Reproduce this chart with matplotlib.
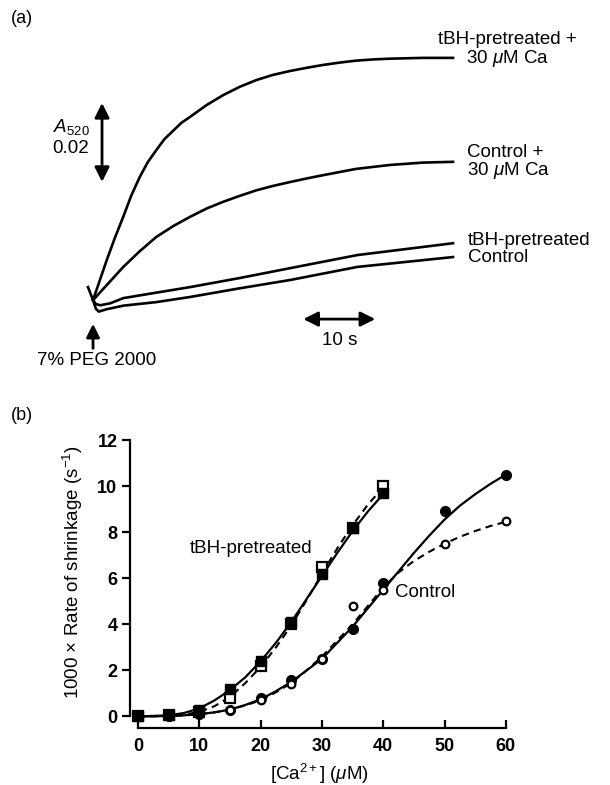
import matplotlib.pyplot as plt

plt.rcParams['font.family'] = ['Liberation Sans', 'DejaVu Sans']
plt.rcParams['mathtext.fontset'] = 'custom'
plt.rcParams['mathtext.rm'] = 'Liberation Sans'
plt.rcParams['mathtext.it'] = 'Liberation Sans:italic'
plt.rcParams['mathtext.bf'] = 'Liberation Sans:bold'

# ---- panel (a): A520 traces (time in s, change in A520 x 1000) ----
t_tbh_ca = [-0.7, 0, 1.9, 3.0, 4.2, 5.3, 6.5, 7.6, 8.8, 9.9, 11.2, 12.3, 13.5, 15.8, 18.1,
            20.4, 22.7, 25.0, 27.4, 29.7, 31.9, 34.2, 36.5, 38.8, 41.2, 45.8, 50]
a_tbh_ca = [3.3, 0, 10.1, 15.6, 21.1, 26.4, 31.2, 34.9, 38.0, 40.7, 43.0, 44.9, 46.4, 49.4, 51.9,
            54.0, 55.7, 57.0, 58.0, 58.8, 59.5, 60.1, 60.6, 60.9, 61.1, 61.3, 61.3]

t_ctrl_ca = [0, 1.9, 4.2, 6.5, 8.8, 11.2, 13.5, 15.8, 18.1, 20.4, 22.7, 25.0, 27.4, 29.7,
             31.9, 36.5, 41.2, 45.8, 50]
a_ctrl_ca = [0, 3.8, 8.4, 12.4, 16.0, 18.8, 21.1, 23.2, 24.9, 26.4, 27.8, 28.9, 29.9, 30.8,
             31.6, 33.2, 34.2, 34.8, 35.0]

t_tbh = [0, 0.4, 1.0, 2.4, 4.2, 8.8, 13.5, 20.4, 27.4, 36.7, 50]
a_tbh = [0, -1.0, -1.3, -0.8, 0.5, 1.9, 3.3, 5.6, 8.1, 11.4, 14.4]

t_ctrl = [0, 0.4, 0.8, 1.9, 4.2, 8.8, 13.5, 20.4, 27.4, 36.7, 50]
a_ctrl = [0, -2.2, -2.9, -2.3, -1.4, -0.5, 0.8, 3.0, 5.1, 8.4, 10.9]

# ---- panel (b): rate of shrinkage vs [Ca2+] ----
conc_tbh = [0, 5, 10, 15, 20, 25, 30, 35, 40]
tbh_filled = [0, 0.05, 0.3, 1.2, 2.4, 4.1, 6.2, 8.2, 9.7]
tbh_open = [0, 0.05, 0.2, 0.8, 2.2, 4.0, 6.5, 8.2, 10.0]

conc_ctrl = [0, 5, 10, 15, 20, 25, 30, 35, 40, 50, 60]
ctrl_filled = [0, 0.02, 0.1, 0.3, 0.8, 1.6, 2.5, 3.8, 5.8, 8.9, 10.5]
ctrl_open = [0, 0.02, 0.1, 0.3, 0.7, 1.4, 2.5, 4.8, 5.5, 7.5, 8.5]

# fitted curves
fit_x_tbh = [0, 5, 7.5, 10, 12.5, 15, 17.5, 20, 22.5, 25, 27.5, 30, 32.5, 35, 37.5, 40]
fit_tbh_solid = [0, 0.05, 0.15, 0.35, 0.7, 1.15, 1.7, 2.4, 3.2, 4.1, 5.1, 6.1, 7.1, 8.05, 8.9, 9.65]
fit_tbh_dash = [0, 0.03, 0.08, 0.2, 0.45, 0.85, 1.45, 2.15, 3.0, 3.95, 5.05, 6.2, 7.3, 8.3, 9.2, 9.95]

fit_x_ctrl = [0, 5, 7.5, 10, 12.5, 15, 17.5, 20, 22.5, 25, 27.5, 30, 32.5, 35, 37.5, 40,
              42.5, 45, 47.5, 50, 52.5, 55, 57.5, 60]
fit_ctrl_solid = [0, 0.02, 0.05, 0.1, 0.18, 0.3, 0.5, 0.75, 1.1, 1.5, 2.0, 2.5, 3.2, 3.9, 4.7, 5.5,
                  6.3, 7.1, 7.85, 8.55, 9.15, 9.65, 10.1, 10.5]
fit_ctrl_dash = [0, 0.02, 0.05, 0.1, 0.18, 0.3, 0.48, 0.7, 1.05, 1.45, 2.0, 2.6, 3.3, 4.0, 4.8, 5.6,
                 6.25, 6.75, 7.15, 7.5, 7.8, 8.05, 8.27, 8.45]

fig = plt.figure(figsize=(6.1, 7.85), dpi=100)

# ================= (a) =================
axa = fig.add_axes([0, 0.503, 1, 0.497])
axa.set_xlim(-12.92, 71.8)
axa.set_ylim(-22.78, 75.95)
axa.axis('off')

lw = 1.9
axa.plot(t_tbh_ca, a_tbh_ca, color='k', lw=lw)
axa.plot(t_ctrl_ca, a_ctrl_ca, color='k', lw=lw)
axa.plot(t_tbh, a_tbh, color='k', lw=lw)
axa.plot(t_ctrl, a_ctrl, color='k', lw=lw)

fs = 13.5
axa.text(57.6, 63.3, 'tBH-pretreated +\n30 $\\mathit{\\mu}$M Ca', ha='center', va='center',
         multialignment='center', fontsize=fs, linespacing=0.95)
axa.text(51.9, 34.9, 'Control +\n30 $\\mathit{\\mu}$M Ca', ha='left', va='center',
         fontsize=fs, linespacing=0.95)
axa.text(52.1, 15.2, 'tBH-pretreated', ha='left', va='center', fontsize=fs)
axa.text(52.1, 10.9, 'Control', ha='left', va='center', fontsize=fs)

# scale bars
arr = dict(arrowstyle='<|-|>', color='k', lw=2, mutation_scale=22, shrinkA=0, shrinkB=0)
axa.annotate('', xy=(1.25, 49.9), xytext=(1.25, 29.9), arrowprops=arr)
axa.annotate('', xy=(29.2, -4.8), xytext=(39.2, -4.8), arrowprops=arr)
axa.annotate('', xy=(0, -6.0), xytext=(0, -12.2),
             arrowprops=dict(arrowstyle='-|>', color='k', lw=2, mutation_scale=20,
                             shrinkA=0, shrinkB=0))
axa.text(-0.5, 43.8, '$A_{520}$', ha='right', va='center', fontsize=fs)
axa.text(-0.5, 38.3, '0.02', ha='right', va='center', fontsize=fs)
axa.text(34.3, -10.1, '10 s', ha='center', va='center', fontsize=fs)
axa.text(0.55, -15.2, '7% PEG 2000', ha='center', va='center', fontsize=fs)

fig.text(0.018, 0.977, '(a)', fontsize=13, va='center')
fig.text(0.018, 0.471, '(b)', fontsize=13, va='center')

# ================= (b) =================
axb = fig.add_axes([130 / 610, 57 / 785, 379 / 610, 288 / 785])
axb.set_xlim(-1.3, 60.5)
axb.set_ylim(-0.5, 12)

axb.plot(fit_x_tbh, fit_tbh_solid, color='k', lw=1.6, zorder=2)
axb.plot(fit_x_tbh, fit_tbh_dash, color='k', lw=1.5, ls=(0, (3.5, 2.5)), zorder=2)
axb.plot(fit_x_ctrl, fit_ctrl_solid, color='k', lw=1.6, zorder=2)
axb.plot(fit_x_ctrl, fit_ctrl_dash, color='k', lw=1.5, ls=(0, (3.5, 2.5)), zorder=2)

axb.plot(conc_ctrl, ctrl_filled, 'o', color='k', ms=7, ls='none', zorder=3, clip_on=False)
axb.plot(conc_ctrl, ctrl_open, 'o', mfc='white', mec='k', mew=1.6, ms=5.5, ls='none',
         zorder=4, clip_on=False)
axb.plot(conc_tbh, tbh_open, 's', mfc='white', mec='k', mew=1.6, ms=6.5, ls='none',
         zorder=4, clip_on=False)
axb.plot(conc_tbh, tbh_filled, 's', color='k', ms=7.5, ls='none', zorder=5, clip_on=False)

axb.text(18.4, 7.3, 'tBH-pretreated', ha='center', va='center', fontsize=fs)
axb.text(41.9, 5.4, 'Control', ha='left', va='center', fontsize=fs)

for side in ['top', 'right']:
    axb.spines[side].set_visible(False)
axb.spines['left'].set_bounds(0, 12)
axb.spines['bottom'].set_bounds(0, 60)
axb.spines['left'].set_linewidth(1.6)
axb.spines['bottom'].set_linewidth(1.6)

axb.set_xticks([0, 10, 20, 30, 40, 50, 60])
axb.set_yticks([0, 2, 4, 6, 8, 10, 12])
axb.tick_params(axis='y', direction='out', length=6, width=1.6, pad=3, labelsize=13)
axb.tick_params(axis='x', direction='in', length=6, width=1.6, pad=7, labelsize=13)
for lab in axb.get_xticklabels() + axb.get_yticklabels():
    lab.set_fontweight('bold')

axb.set_ylabel('1000 \u00d7 Rate of shrinkage (s$^{-1}$)', fontsize=13.5)
axb.yaxis.set_label_coords(-0.12, 0.54)
axb.set_xlabel('[Ca$^{2+}$] ($\\mathit{\\mu}$M)', fontsize=13.5)
axb.xaxis.set_label_coords(0.5, -0.118)

fig.savefig('out.png', dpi=100)
